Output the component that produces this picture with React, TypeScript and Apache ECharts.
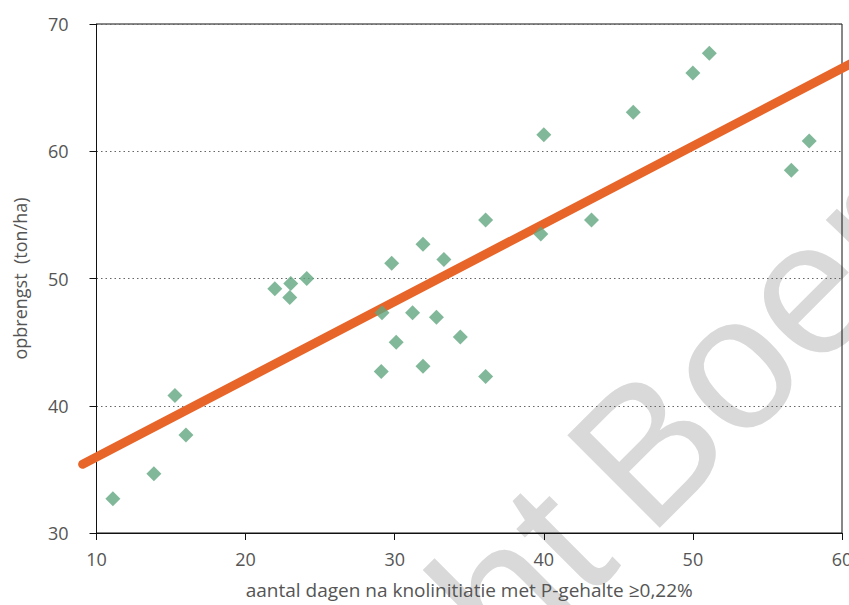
import React, { useEffect, useRef } from "react";
import * as echarts from "echarts";

const xValues = [11.1, 13.85, 15.26, 16.0, 21.96, 23.03, 22.96, 24.1, 29.15, 29.8, 30.1, 29.1, 31.2, 31.9, 31.9, 32.8, 33.3, 34.4, 36.1, 36.1, 39.8, 40.0, 43.2, 46.0, 50.0, 51.1, 56.6, 57.8];
const yValues = [32.7, 34.65, 40.8, 37.7, 49.2, 49.6, 48.5, 50.0, 47.3, 51.2, 45.0, 42.7, 47.3, 52.7, 43.1, 46.96, 51.5, 45.4, 54.6, 42.3, 53.5, 61.3, 54.6, 63.06, 66.15, 67.7, 58.5, 60.8];
const trendX = [9.07, 61.0];
const trendY = [35.4, 67.13];
const xTicks = [10, 20, 30, 40, 50, 60];
const yTicks = [30, 40, 50, 60, 70];

const xTitle = "aantal dagen na knolinitiatie met P-gehalte \u22650,22%";
const yTitle = "opbrengst  (ton/ha)";

export default function App() {
  const ref = useRef<HTMLDivElement>(null);
  useEffect(() => {
    if (!ref.current) return;
    const chart = echarts.init(ref.current, undefined, { renderer: "svg" });
    const font = "'Open Sans', Roboto, sans-serif";
    const points = xValues.map((x, i) => [x, yValues[i]]);
    const trend = trendX.map((x, i) => [x, trendY[i]]);
    chart.setOption({
      animation: false,
      backgroundColor: "#ffffff",
      grid: {
        left: 96.5,
        right: 7,
        top: 24,
        bottom: 72,
        show: true,
        borderColor: "#111",
        borderWidth: 1,
        backgroundColor: "transparent",
        outerBoundsMode: "none",
        containLabel: false,
      },
      xAxis: {
        type: "value",
        min: xTicks[0],
        max: xTicks[xTicks.length - 1],
        interval: 10,
        name: xTitle,
        nameLocation: "middle",
        nameGap: 47,
        nameTextStyle: { color: "#555", fontSize: 19, fontFamily: font },
        axisLine: { show: true, lineStyle: { color: "#111", width: 1 } },
        axisTick: { show: true, inside: false, length: 7, lineStyle: { color: "#111" } },
        axisLabel: { color: "#555", fontSize: 18, fontFamily: font, margin: 17 },
        splitLine: { show: false },
      },
      yAxis: {
        type: "value",
        min: yTicks[0],
        max: yTicks[yTicks.length - 1],
        interval: 10,
        name: yTitle,
        nameLocation: "middle",
        nameGap: 68,
        nameTextStyle: { color: "#555", fontSize: 18, fontFamily: font },
        axisLine: { show: true, lineStyle: { color: "#111", width: 1 } },
        axisTick: { show: true, inside: false, length: 7, lineStyle: { color: "#111" } },
        axisLabel: { color: "#555", fontSize: 18, fontFamily: font, margin: 28 },
        splitLine: { show: true, lineStyle: { color: "#666", type: [1.5, 3], width: 1 } },
      },
      series: [
        {
          type: "scatter",
          data: points,
          symbol: "diamond",
          symbolSize: 15,
          z: 5,
          itemStyle: { color: "#62a67f" },
        },
      ],
    });
    const trendPx = trend.map((d) => chart.convertToPixel({ gridIndex: 0 }, d) as number[]);
    const wmFont = "190px 'Liberation Sans', sans-serif";
    chart.setOption({
      graphic: [
        {
          type: "text",
          x: 602,
          y: 492,
          rotation: Math.PI / 4,
          z: -10,
          silent: true,
          style: {
            text: "Boerderij",
            fill: "#d9d9d9",
            font: wmFont,
            textAlign: "left",
            textVerticalAlign: "middle",
          },
        },
        {
          type: "text",
          x: 576,
          y: 518,
          rotation: Math.PI / 4,
          z: -10,
          silent: true,
          style: {
            text: "Copyright",
            fill: "#d9d9d9",
            font: wmFont,
            textAlign: "right",
            textVerticalAlign: "middle",
          },
        },
        {
          type: "polyline",
          z: 3,
          silent: true,
          shape: { points: trendPx },
          style: { stroke: "#e8652a", lineWidth: 9, lineCap: "round", fill: null },
        },
      ],
    });
    return () => chart.dispose();
  }, []);
  return (
    <div
      ref={ref}
      style={{ position: "fixed", left: 0, top: 0, width: 849, height: 605 }}
    />
  );
}
